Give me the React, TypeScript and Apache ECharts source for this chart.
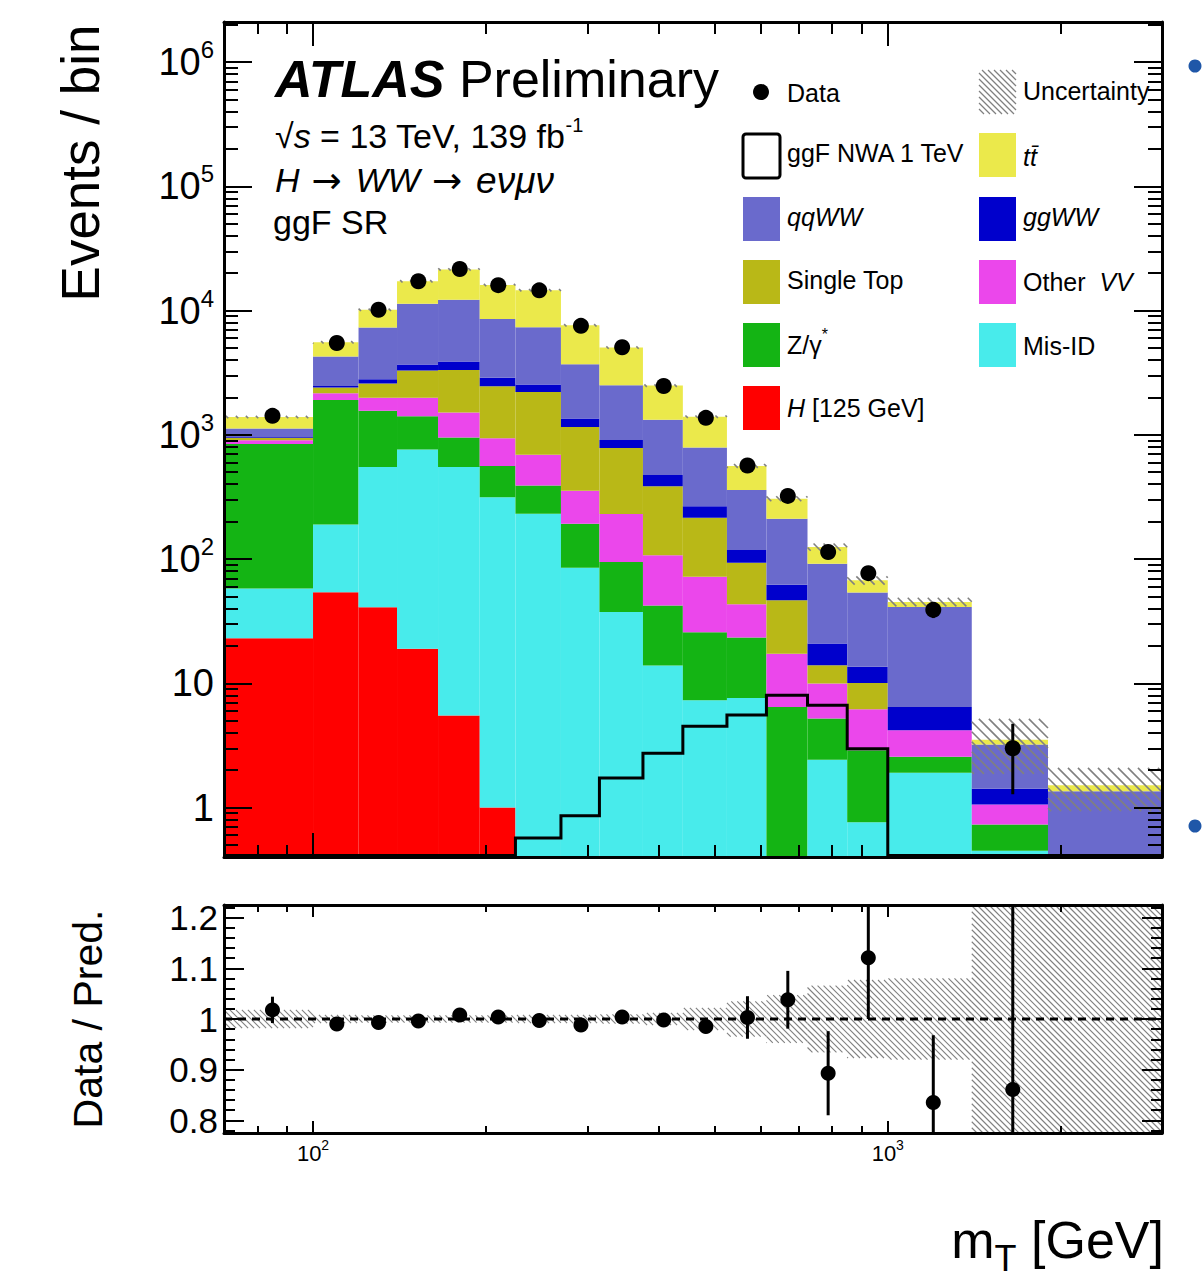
import React, { useEffect, useRef } from "react";
import * as echarts from "echarts";

// ---------------- data ----------------
const binEdges = [70, 100, 120, 140, 165, 195, 225, 270, 315, 375, 440, 525, 615, 725, 850, 1000, 1400, 1900, 3000];

// stacked backgrounds, bottom -> top (events / bin)
const higgs125 = [23, 54, 41, 19, 5.5, 1.0, 0, 0, 0, 0, 0, 0, 0, 0, 0, 0, 0, 0];
const misID = [35, 136, 510, 741, 545, 313, 231, 85, 37.5, 13.9, 7.3, 7.6, 0.1, 2.43, 0.76, 1.91, 0.45, 0.05];
const zGammaStar = [785, 1715, 1010, 649, 402, 248, 160, 107, 57, 28.3, 18.4, 15.8, 6.36, 2.77, 2.13, 0.65, 0.28, 0.05];
const otherVV = [59, 250, 424, 576, 556, 378, 300, 163, 136, 65, 46.2, 19.9, 10.84, 4.75, 3.29, 1.63, 0.33, 0.1];
const singleTop = [45, 249, 608, 1311, 1809, 1514, 1524, 800, 551, 279, 143, 50.1, 29.2, 4.01, 3.89, 0, 0, 0.05];
const ggWW = [13, 68, 201, 379, 565, 418, 325, 197, 126, 88, 51.5, 24.6, 15.7, 6.94, 3.53, 2.27, 0.36, 0.1];
const qqWW = [164, 1804, 4501, 7645, 8317, 5671, 4804, 2351, 1597, 850, 525.5, 242, 148.8, 70.9, 40.1, 34.74, 1.79, 1.0];
const ttbar = [265, 1270, 2845, 5860, 9200, 7497, 7236, 3900, 2535, 1164, 608, 202, 95, 33.2, 13.7, 4.0, 0.31, 0.16];

// relative total uncertainty of the prediction per bin
const relUncertainty = [0.018, 0.008, 0.007, 0.007, 0.007, 0.007, 0.008, 0.008, 0.009, 0.012, 0.022, 0.035, 0.047, 0.066, 0.077, 0.08, 0.47, 0.38];

// signal: ggF NWA 1 TeV (null = below the visible range)
const ggfNWA1TeV = [null, null, null, null, null, null, 0.57, 0.86, 1.73, 2.73, 4.52, 5.55, 8.0, 6.65, 2.98, null, null, null];

// data (first 17 bins)
const dataCounts = [1420, 5480, 10150, 17200, 21600, 16000, 14550, 7530, 5060, 2470, 1370, 566, 322, 114, 77, 39, 3];
const dataErrors = [38, 74, 101, 131, 147, 126, 121, 87, 71, 50, 37, 24, 18, 11, 9, 5.5, 1.72];

// ratio panel
const ratioValues = [1.018, 0.99, 0.993, 0.996, 1.008, 1.004, 0.997, 0.988, 1.004, 0.998, 0.985, 1.003, 1.038, 0.893, 1.121, 0.835, 0.861];
const ratioErrors = [0.026, 0.008, 0.007, 0.007, 0.007, 0.007, 0.008, 0.009, 0.01, 0.01, 0.013, 0.042, 0.057, 0.083, 0.121, 0.133, 0.5];

// tick labels
const mainYLabelExponents = [0, 1, 2, 3, 4, 5, 6];
const xLabelExponents = [2, 3];
const ratioTickLabels = [0.8, 0.9, 1, 1.1, 1.2];

// ---------------- styling / layout ----------------
const FONT = '"Liberation Sans", Arial, Helvetica, sans-serif';
const HATCH = "#808080";
const X_MIN = 70, X_MAX = 3000;
const Y_MIN = 0.4, Y_MAX = 2.1e6;
const R_MIN = 0.775, R_MAX = 1.225;

const stackLayers = [
  { name: "H [125 GeV]", values: higgs125, color: "#ff0000" },
  { name: "Mis-ID", values: misID, color: "#48ebeb" },
  { name: "Z/γ*", values: zGammaStar, color: "#14b414" },
  { name: "Other VV", values: otherVV, color: "#eb47eb" },
  { name: "Single Top", values: singleTop, color: "#b9b817" },
  { name: "ggWW", values: ggWW, color: "#0000cc" },
  { name: "qqWW", values: qqWW, color: "#6a6acc" },
  { name: "tt̄", values: ttbar, color: "#ebe94b" },
];

function hatchLines(x0: number, y0: number, x1: number, y1: number, sp: number, color: string, width: number) {
  const out: any[] = [];
  if (x1 - x0 < 0.5 || y1 - y0 < 0.5) return out;
  const cStart = Math.floor((y0 - x1) / sp) * sp;
  const cEnd = y1 - x0;
  for (let c = cStart; c <= cEnd; c += sp) {
    const xs = Math.max(x0, y0 - c);
    const xe = Math.min(x1, y1 - c);
    if (xe - xs > 0.2) {
      out.push({
        type: "line",
        silent: true,
        shape: { x1: xs, y1: xs + c, x2: xe, y2: xe + c },
        style: { stroke: color, lineWidth: width, fill: "none" },
      });
    }
  }
  return out;
}

function isPow10(v: number) {
  const l = Math.log10(v);
  return Math.abs(l - Math.round(l)) < 1e-6;
}

function rs(size: number, italic = false, bold = false, padding?: number[], family = FONT) {
  const o: any = {
    fontSize: size,
    fontFamily: family,
    fontStyle: italic ? "italic" : "normal",
    fontWeight: bold ? "bold" : "normal",
    fill: "#000",
    color: "#000",
  };
  if (padding) o.padding = padding;
  return o;
}

function txt(x: number, y: number, text: string, size: number, rich?: any, align = "left", extra: any = {}) {
  const style: any = {
    text,
    fontSize: size,
    fontFamily: FONT,
    fill: "#000",
    align,
    verticalAlign: "middle",
    textAlign: align,
    textVerticalAlign: "middle",
  };
  if (rich) style.rich = rich;
  return { type: "text", x, y, silent: true, style, ...extra };
}

function buildOption() {
  const nBins = binEdges.length - 1;
  const totals = Array.from({ length: nBins }, (_, i) => stackLayers.reduce((s, l) => s + l.values[i], 0));
  const centers = binEdges.slice(0, -1).map((lo, i) => (lo + binEdges[i + 1]) / 2);
  const dataCenters = centers.slice(0, dataCounts.length);

  const axisLine = { show: true, onZero: false, lineStyle: { color: "#000", width: 3 } };

  const xAxisDef = (gridIndex: number, position: string, major: number, minor: number, labels: boolean) => ({
    type: "log",
    logBase: 10,
    gridIndex,
    position,
    min: X_MIN,
    max: X_MAX,
    z: 10,
    axisLine,
    axisTick: { show: true, inside: true, length: major, lineStyle: { color: "#000", width: 2 } },
    minorTick: { show: true, splitNumber: 9, length: minor, lineStyle: { color: "#000", width: 2 } },
    splitLine: { show: false },
    minorSplitLine: { show: false },
    axisLabel: labels
      ? {
          show: true,
          margin: 5,
          color: "#000",
          formatter: (v: number) => {
            if (!isPow10(v)) return "";
            const e = Math.round(Math.log10(v));
            return xLabelExponents.indexOf(e) >= 0 ? `{b|10}{s|${e}}` : "";
          },
          rich: { b: rs(22), s: rs(14, false, false, [0, 0, 16, 0]) },
        }
      : { show: false },
  });

  const yMainDef = (position: string, labels: boolean) => ({
    type: "log",
    logBase: 10,
    gridIndex: 0,
    position,
    min: Y_MIN,
    max: Y_MAX,
    z: 10,
    axisLine,
    axisTick: { show: true, inside: true, length: 28, lineStyle: { color: "#000", width: 2 } },
    minorTick: { show: true, splitNumber: 9, length: 14, lineStyle: { color: "#000", width: 2 } },
    splitLine: { show: false },
    minorSplitLine: { show: false },
    axisLabel: labels
      ? {
          show: true,
          margin: 10,
          color: "#000",
          formatter: (v: number) => {
            if (!isPow10(v)) return "";
            const e = Math.round(Math.log10(v));
            if (mainYLabelExponents.indexOf(e) < 0) return "";
            if (e === 0) return "{b|1}";
            if (e === 1) return "{b|10}";
            return `{b|10}{s|${e}}`;
          },
          rich: { b: rs(38), s: rs(24, false, false, [0, 0, 25, 0]) },
        }
      : { show: false },
  });

  const yRatioDef = (position: string, labels: boolean) => ({
    type: "value",
    gridIndex: 1,
    position,
    min: R_MIN,
    max: R_MAX,
    z: 10,
    axisLine,
    axisTick: { show: true, inside: true, length: 20, lineStyle: { color: "#000", width: 2 } },
    minorTick: { show: true, splitNumber: 5, length: 11, lineStyle: { color: "#000", width: 2 } },
    splitLine: { show: false },
    minorSplitLine: { show: false },
    axisLabel: labels
      ? {
          show: true,
          margin: 6,
          color: "#000",
          fontSize: 35,
          fontFamily: FONT,
          formatter: (v: number) => {
            const r = Math.round(v * 10) / 10;
            if (Math.abs(v - r) > 1e-6) return "";
            return ratioTickLabels.some((t) => Math.abs(t - r) < 1e-6) ? String(r) : "";
          },
        }
      : { show: false },
  });

  const clampY = (cs: any, y: number) => Math.max(cs.y, Math.min(cs.y + cs.height, y));

  const series: any[] = [
    // stacked histogram + uncertainty hatch
    {
      type: "custom",
      xAxisIndex: 0,
      yAxisIndex: 0,
      z: 2,
      silent: true,
      data: centers.map((c, i) => [c, totals[i]]),
      renderItem: (params: any, api: any) => {
        const i = params.dataIndex;
        const cs = params.coordSys;
        const bot = cs.y + cs.height;
        const x0 = api.coord([binEdges[i], 1])[0];
        const x1 = api.coord([binEdges[i + 1], 1])[0];
        const yp = (v: number) => (v <= 0 ? bot : clampY(cs, api.coord([binEdges[i], v])[1]));
        const children: any[] = [];
        let cum = 0;
        for (const layer of stackLayers) {
          const v = layer.values[i];
          if (!(v > 0)) continue;
          const yLo = yp(cum);
          cum += v;
          const yHi = yp(cum);
          if (yLo - yHi > 0.05) {
            children.push({
              type: "rect",
              shape: { x: x0, y: yHi, width: x1 - x0, height: yLo - yHi },
              style: { fill: layer.color, stroke: "none" },
            });
          }
        }
        const u = relUncertainty[i];
        let hTop = yp(cum * (1 + u));
        let hBot = yp(cum * (1 - u));
        if (hBot - hTop < 2.4) {
          const m = (hTop + hBot) / 2;
          hTop = m - 1.2;
          hBot = m + 1.2;
        }
        children.push(...hatchLines(x0, hTop, x1, hBot, 10, HATCH, 1.6));
        return { type: "group", children };
      },
    },
    // signal step line
    {
      type: "custom",
      xAxisIndex: 0,
      yAxisIndex: 0,
      z: 3,
      silent: true,
      data: [[1000, 1]],
      renderItem: (params: any, api: any) => {
        const cs = params.coordSys;
        const bot = cs.y + cs.height;
        const pts: number[][] = [];
        for (let i = 0; i < nBins; i++) {
          const v = ggfNWA1TeV[i];
          const y = v == null ? bot - 1.5 : clampY(cs, api.coord([binEdges[i], v])[1]);
          pts.push([api.coord([binEdges[i], 1])[0], y], [api.coord([binEdges[i + 1], 1])[0], y]);
        }
        return { type: "polyline", shape: { points: pts }, style: { stroke: "#000", lineWidth: 3, fill: "none" } };
      },
    },
    // data error bars
    {
      type: "custom",
      xAxisIndex: 0,
      yAxisIndex: 0,
      z: 4,
      silent: true,
      data: dataCounts.map((v, i) => [dataCenters[i], v]),
      renderItem: (params: any, api: any) => {
        const i = params.dataIndex;
        const cs = params.coordSys;
        const x = api.coord([dataCenters[i], dataCounts[i]])[0];
        const hi = dataCounts[i] + dataErrors[i];
        const lo = dataCounts[i] - dataErrors[i];
        const yA = clampY(cs, api.coord([dataCenters[i], hi])[1]);
        const yB = lo <= 0 ? cs.y + cs.height : clampY(cs, api.coord([dataCenters[i], lo])[1]);
        return { type: "line", shape: { x1: x, y1: yA, x2: x, y2: yB }, style: { stroke: "#000", lineWidth: 3, fill: "none" } };
      },
    },
    // data points
    {
      type: "scatter",
      xAxisIndex: 0,
      yAxisIndex: 0,
      z: 5,
      silent: true,
      symbol: "circle",
      symbolSize: 16,
      itemStyle: { color: "#000", opacity: 1, borderWidth: 0 },
      data: dataCounts.map((v, i) => [dataCenters[i], v]),
    },
    // ratio uncertainty band
    {
      type: "custom",
      xAxisIndex: 2,
      yAxisIndex: 2,
      z: 2,
      silent: true,
      data: centers.map((c) => [c, 1]),
      renderItem: (params: any, api: any) => {
        const i = params.dataIndex;
        const cs = params.coordSys;
        const x0 = api.coord([binEdges[i], 1])[0];
        const x1 = api.coord([binEdges[i + 1], 1])[0];
        const u = relUncertainty[i];
        const yT = clampY(cs, api.coord([binEdges[i], 1 + u])[1]);
        const yB = clampY(cs, api.coord([binEdges[i], 1 - u])[1]);
        return { type: "group", children: hatchLines(x0, yT, x1, yB, 6, HATCH, 1.1) };
      },
    },
    // dashed line at 1
    {
      type: "custom",
      xAxisIndex: 2,
      yAxisIndex: 2,
      z: 3,
      silent: true,
      data: [[1000, 1]],
      renderItem: (params: any, api: any) => {
        const a = api.coord([X_MIN, 1]);
        const b = api.coord([X_MAX, 1]);
        return {
          type: "line",
          shape: { x1: a[0], y1: a[1], x2: b[0], y2: b[1] },
          style: { stroke: "#000", lineWidth: 3, lineDash: [8, 6], fill: "none" },
        };
      },
    },
    // ratio error bars
    {
      type: "custom",
      xAxisIndex: 2,
      yAxisIndex: 2,
      z: 4,
      silent: true,
      data: ratioValues.map((v, i) => [dataCenters[i], v]),
      renderItem: (params: any, api: any) => {
        const i = params.dataIndex;
        const cs = params.coordSys;
        const x = api.coord([dataCenters[i], 1])[0];
        const yA = clampY(cs, api.coord([dataCenters[i], ratioValues[i] + ratioErrors[i]])[1]);
        const yB = clampY(cs, api.coord([dataCenters[i], ratioValues[i] - ratioErrors[i]])[1]);
        return { type: "line", shape: { x1: x, y1: yA, x2: x, y2: yB }, style: { stroke: "#000", lineWidth: 3, fill: "none" } };
      },
    },
    // ratio points
    {
      type: "scatter",
      xAxisIndex: 2,
      yAxisIndex: 2,
      z: 5,
      silent: true,
      symbol: "circle",
      symbolSize: 15,
      itemStyle: { color: "#000", opacity: 1, borderWidth: 0 },
      data: ratioValues.map((v, i) => [dataCenters[i], v]),
    },
  ];

  // ---------- texts & legend ----------
  const g: any[] = [];
  g.push(txt(275, 79, "{a|ATLAS} {b|Preliminary}", 52, { a: rs(52, true, true), b: rs(52) }));
  g.push(
    txt(275, 136, "{n|√}{i|s}{n| = 13 TeV, 139 fb}{s|-1}", 34, {
      n: rs(34),
      i: rs(34, true),
      s: rs(20, false, false, [0, 0, 22, 0]),
    })
  );
  g.push(
    txt(275, 180, "{i|H}{a|→}{i|WW}{a|→}{g|eνμν}", 34, {
      i: rs(34, true),
      a: rs(36, false, false, [0, 14, 0, 12], '"DejaVu Sans", sans-serif'),
      g: rs(37, true),
    })
  );
  g.push(txt(273, 222, "ggF SR", 34));

  // legend
  const LX = 743, RX = 979, BW = 37, BH = 44;
  g.push({ type: "circle", silent: true, shape: { cx: 761, cy: 92, r: 8 }, style: { fill: "#000" } });
  g.push(txt(787, 93, "Data", 25));
  g.push({
    type: "rect",
    silent: true,
    shape: { x: LX, y: 134, width: BW, height: BH, r: 3 },
    style: { fill: "none", stroke: "#000", lineWidth: 3 },
  });
  g.push(txt(787, 153, "ggF NWA 1 TeV", 25));
  const leftBoxes = [
    { y: 197, color: stackLayers[6].color, label: "{i|qqWW}", ly: 217 },
    { y: 260, color: stackLayers[4].color, label: "{n|Single Top}", ly: 280 },
    { y: 323, color: stackLayers[2].color, label: "{n|Z/γ}{s|*}", ly: 345 },
    { y: 386, color: stackLayers[0].color, label: "{i|H}{n| [125 GeV]}", ly: 408 },
  ];
  const rightBoxes = [
    { y: 133, color: stackLayers[7].color, label: "{i|tt̄}", ly: 157 },
    { y: 197, color: stackLayers[5].color, label: "{i|ggWW}", ly: 217 },
    { y: 260, color: stackLayers[3].color, label: "{n|Other  }{i|VV}", ly: 282 },
    { y: 323, color: stackLayers[1].color, label: "{n|Mis-ID}", ly: 346 },
  ];
  const legRich = { n: rs(25), i: rs(25, true), s: rs(16, false, false, [0, 0, 22, 0]) };
  for (const b of leftBoxes) {
    g.push({ type: "rect", silent: true, shape: { x: LX, y: b.y, width: BW, height: BH }, style: { fill: b.color } });
    g.push(txt(787, b.ly, b.label, 25, legRich));
  }
  g.push(...hatchLines(RX, 70, RX + BW, 114, 6, HATCH, 1.3));
  g.push(txt(1023, 91, "Uncertainty", 25));
  for (const b of rightBoxes) {
    g.push({ type: "rect", silent: true, shape: { x: RX, y: b.y, width: BW, height: BH }, style: { fill: b.color } });
    g.push(txt(1023, b.ly, b.label, 25, legRich));
  }

  // axis titles
  g.push(txt(80, 163, "Events / bin", 53, undefined, "center", { rotation: Math.PI / 2 }));
  g.push(txt(88, 1019, "Data / Pred.", 41, undefined, "center", { rotation: Math.PI / 2 }));
  g.push(
    txt(1164, 1240, "{m|m}{s|T}{m| [GeV]}", 52, { m: rs(52), s: rs(36, false, false, [37, 0, 0, 0]) }, "right")
  );

  // slide bullets at the right edge
  g.push({ type: "circle", silent: true, shape: { cx: 1195, cy: 66, r: 6.5 }, style: { fill: "#1f57a8" } });
  g.push({ type: "circle", silent: true, shape: { cx: 1195, cy: 826, r: 6.5 }, style: { fill: "#1f57a8" } });

  return {
    animation: false,
    backgroundColor: "#ffffff",
    textStyle: { fontFamily: FONT },
    grid: [
      { left: 224, top: 22, width: 938, height: 835, containLabel: false, outerBoundsMode: "none", show: false },
      { left: 224, top: 905, width: 938, height: 228, containLabel: false, outerBoundsMode: "none", show: false },
    ],
    xAxis: [
      xAxisDef(0, "bottom", 24, 12, false),
      xAxisDef(0, "top", 24, 12, false),
      xAxisDef(1, "bottom", 12, 7, true),
      xAxisDef(1, "top", 12, 7, false),
    ],
    yAxis: [yMainDef("left", true), yMainDef("right", false), yRatioDef("left", true), yRatioDef("right", false)],
    series,
    graphic: { elements: g },
  };
}

export default function App() {
  const ref = useRef<HTMLDivElement>(null);
  useEffect(() => {
    if (!ref.current) return;
    const chart = echarts.init(ref.current, null, { renderer: "svg" });
    chart.setOption(buildOption() as any);
    return () => chart.dispose();
  }, []);
  return (
    <div
      ref={ref}
      style={{ position: "fixed", left: 0, top: 0, width: 1204, height: 1282, background: "#ffffff" }}
    />
  );
}
